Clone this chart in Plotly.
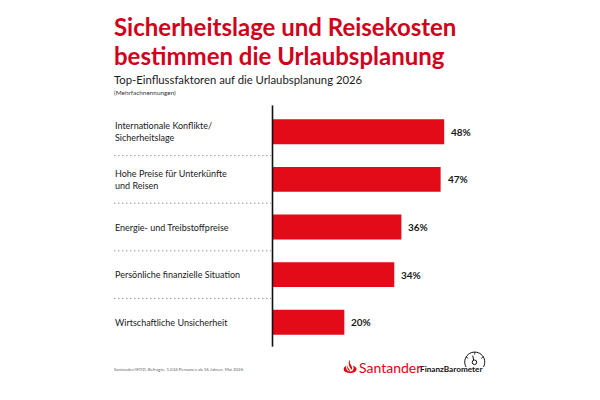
import math
import plotly.graph_objects as go

WIDTH, HEIGHT = 600, 400

categories = [
    "Internationale Konflikte/<br>Sicherheitslage",
    "Hohe Preise für Unterkünfte<br>und Reisen",
    "Energie- und Treibstoffpreise",
    "Persönliche finanzielle Situation",
    "Wirtschaftliche Unsicherheit",
]
shares = [48, 47, 36, 34, 20]

title_lines = ["Sicherheitslage und Reisekosten", "bestimmen die Urlaubsplanung"]
subtitle = "Top-Einflussfaktoren auf die Urlaubsplanung 2026"
note = "(Mehrfachnennungen)"
source = "Santander/IFDD, Befragte: 1.034 Personen ab 16 Jahren, Mai 2026"

RED = "#E30B17"
TITLE_RED = "#D0021B"
INK = "#1a1a1a"
FONT = "Lato"

# Plot area in pixels
LEFT, RIGHT, TOP, BOTTOM = 273.0, 486.75, 107.6, 346.4
pw, ph = RIGHT - LEFT, BOTTOM - TOP


def px(x):
    return (x - LEFT) / pw


def py(y):
    return (BOTTOM - y) / ph


def text(x, y, s, size, color=INK, weight=400, anchor="left", family=FONT):
    return dict(
        x=px(x), y=py(y), xref="paper", yref="paper", text=s, showarrow=False,
        xanchor=anchor, yanchor="middle", align="left", borderpad=0, borderwidth=0,
        font=dict(family=family, size=size, color=color, weight=weight),
    )


fig = go.Figure(
    go.Bar(
        x=shares, y=categories, orientation="h",
        marker=dict(color=RED, line_width=0),
        hoverinfo="skip",
    )
)

annotations = [
    text(114, 25.5, title_lines[0], 24, TITLE_RED, 700),
    text(114, 55, title_lines[1], 24, TITLE_RED, 700),
    text(114.5, 79.5, subtitle, 11.3),
    text(114.5, 92.5, note, 6.4, "#333333"),
    text(114.5, 370, source, 4.4, "#666666"),
    text(359, 367.5, "Santander", 14, "#E3000F", 400),
    text(420, 369, "FinanzBarometer", 8.2, "#111111", 700),
]

# Category names sit in the left column, level with their bars
for cat in categories:
    annotations.append(
        dict(
            x=px(114.5), y=cat, xref="paper", yref="y", text=cat, showarrow=False,
            xanchor="left", yanchor="middle", align="left", borderpad=0,
            font=dict(family=FONT, size=9, color=INK),
        )
    )

# Value labels just past the bar ends
for cat, v in zip(categories, shares):
    annotations.append(
        dict(
            x=v, y=cat, xref="x", yref="y", text=f"{v}%", showarrow=False,
            xanchor="left", yanchor="middle", xshift=6, borderpad=0,
            font=dict(family=FONT, size=10, color=INK, weight=700),
        )
    )

shapes = [
    # Vertical baseline of the bars
    dict(type="line", xref="paper", yref="paper", x0=px(272.5), x1=px(272.5),
         y0=py(105), y1=py(347), line=dict(color="#111111", width=1.6)),
]

# Dotted separators between the rows
for i in range(len(categories) - 1):
    shapes.append(
        dict(type="line", xref="paper", yref="y", x0=px(114.5), x1=px(271),
             y0=i + 0.5, y1=i + 0.5,
             line=dict(color="#666666", width=1, dash="1px,3px"))
    )


def flame(x0, x1, top, bottom):
    """Wordmark flame, built from two tongues above a base."""
    w, h = x1 - x0, bottom - top
    pts = lambda *a: " ".join(f"{px(x0 + u * w):.5f},{py(top + v * h):.5f}" for u, v in a)
    return [
        f"M {pts((0.5, 0))} Q {pts((0.42, 0.25))} {pts((0.58, 0.42))} "
        f"Q {pts((0.72, 0.6))} {pts((0.62, 0.78))} Q {pts((0.42, 0.55))} {pts((0.4, 0.35))} "
        f"Q {pts((0.38, 0.15))} {pts((0.5, 0))} Z",
        f"M {pts((0.3, 0.35))} Q {pts((0.26, 0.55))} {pts((0.42, 0.72))} "
        f"Q {pts((0.5, 0.82))} {pts((0.5, 0.88))} Q {pts((0.2, 0.75))} {pts((0.3, 0.35))} Z",
        f"M {pts((0.22, 0.45))} Q {pts((-0.02, 0.6))} {pts((0, 0.72))} "
        f"Q {pts((0.05, 1))} {pts((0.5, 1))} Q {pts((0.95, 1))} {pts((1, 0.72))} "
        f"Q {pts((1.02, 0.6))} {pts((0.72, 0.45))} Q {pts((0.85, 0.65))} {pts((0.72, 0.82))} "
        f"Q {pts((0.5, 0.95))} {pts((0.28, 0.82))} Q {pts((0.12, 0.65))} {pts((0.22, 0.45))} Z",
    ]


for d in flame(343.5, 356.5, 360, 373.5):
    shapes.append(dict(type="path", xref="paper", yref="paper", path=d,
                       fillcolor="#E3000F", line_width=0))


def polyline(points):
    return "M " + " L ".join(f"{px(x):.5f},{py(y):.5f}" for x, y in points)


# Gauge icon above the barometer wordmark: an open dial, ticks, a needle and a hub
cx, cy, r = 474.5, 362.5, 10.0
dial = [
    (cx + r * math.cos(math.radians(a)), cy + r * math.sin(math.radians(a)))
    for a in range(150, 391, 10)
]
shapes += [
    dict(type="path", xref="paper", yref="paper", path=polyline(dial),
         line=dict(color="#111111", width=1)),
    dict(type="path", xref="paper", yref="paper",
         path=polyline([(472.5, 356), (473.5, 361)]),
         line=dict(color="#111111", width=1)),
    dict(type="circle", xref="paper", yref="paper", x0=px(472), x1=px(476.5),
         y0=py(365), y1=py(360.5), line=dict(color="#111111", width=1), fillcolor="white"),
]
for a in (210, 270, 330):
    c, s = math.cos(math.radians(a)), math.sin(math.radians(a))
    shapes.append(
        dict(type="path", xref="paper", yref="paper",
             path=polyline([(cx + r * c, cy + r * s), (cx + (r - 2.5) * c, cy + (r - 2.5) * s)]),
             line=dict(color="#111111", width=0.8))
    )

fig.update_layout(
    width=WIDTH, height=HEIGHT, autosize=False,
    margin=dict(l=LEFT, r=WIDTH - RIGHT, t=TOP, b=HEIGHT - BOTTOM, pad=0, autoexpand=False),
    paper_bgcolor="white", plot_bgcolor="white",
    showlegend=False, bargap=0.476,
    xaxis=dict(range=[0, 60], visible=False, fixedrange=True),
    yaxis=dict(autorange="reversed", visible=False, fixedrange=True),
    annotations=annotations, shapes=shapes,
    font=dict(family=FONT),
)

fig.write_html("out.html", config=dict(displayModeBar=False))
